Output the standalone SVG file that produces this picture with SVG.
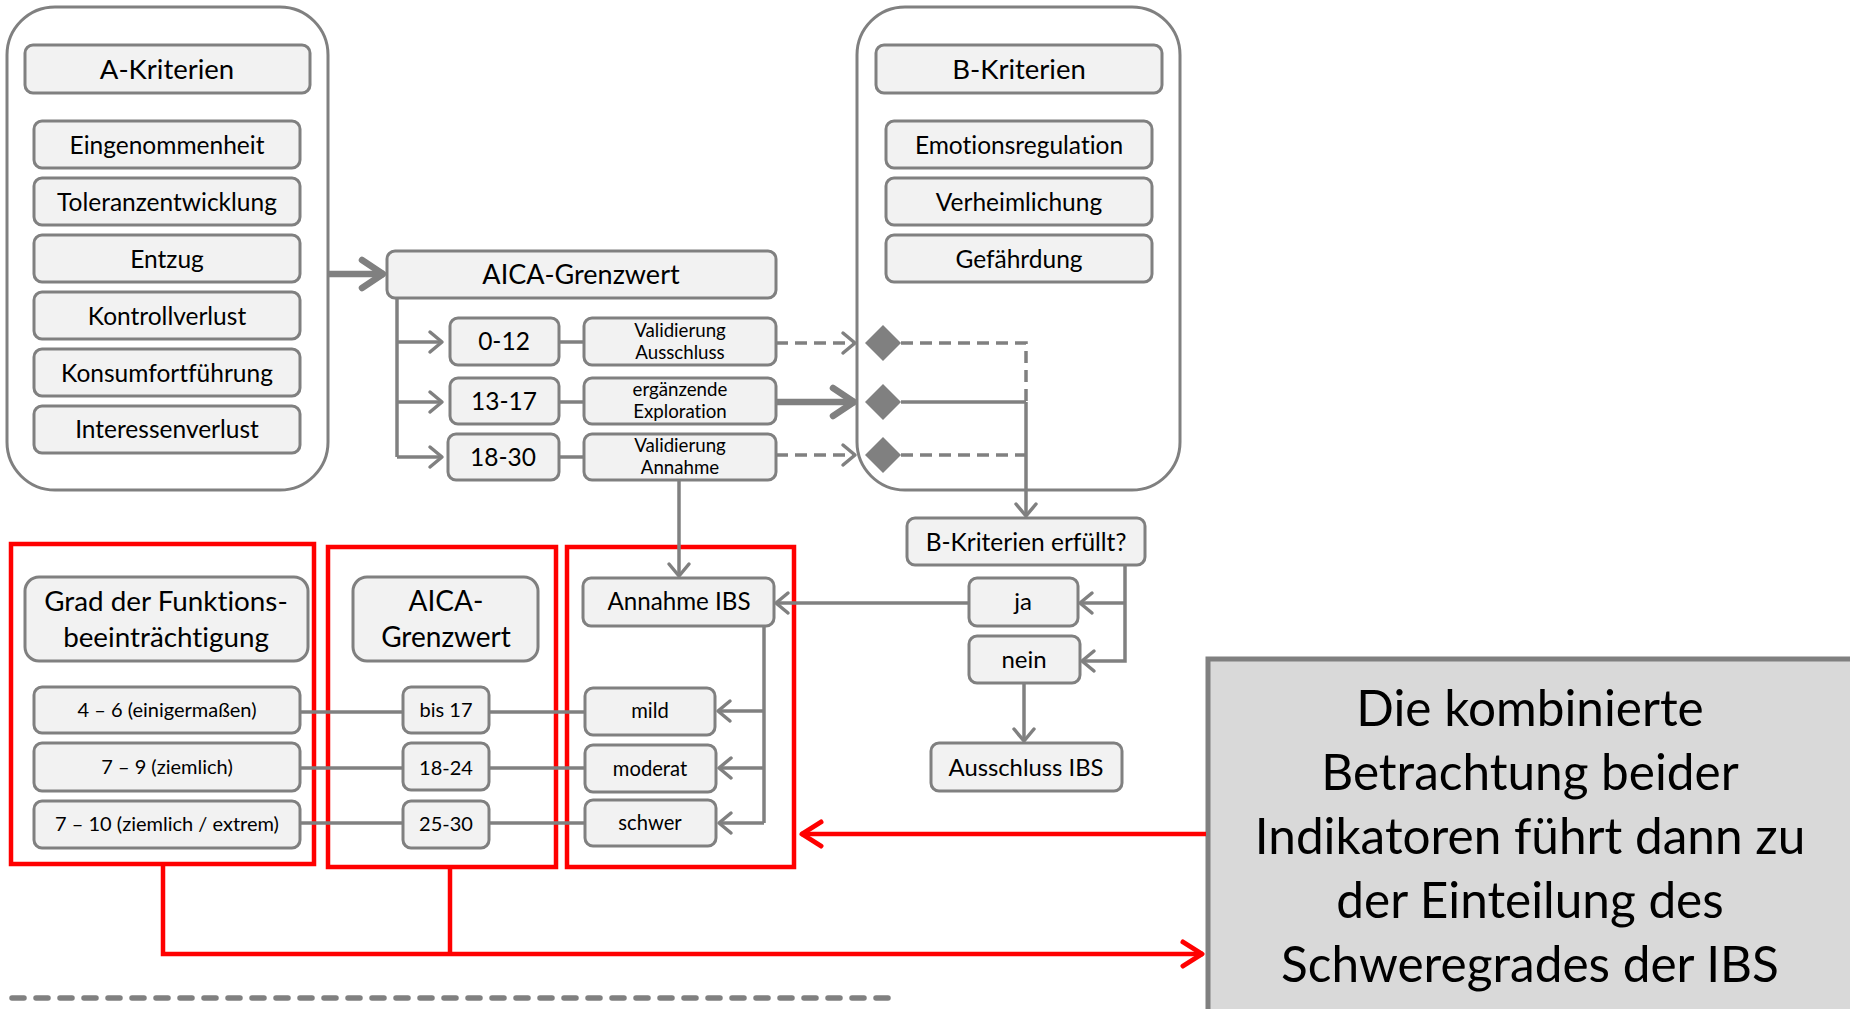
<svg xmlns="http://www.w3.org/2000/svg" width="1850" height="1009" viewBox="0 0 1850 1009">
<defs>
<style>
.box{fill:#f2f2f2;stroke:#808080;stroke-width:3}
.cont{fill:#ffffff;stroke:#808080;stroke-width:3}
.t{font-family:Lato,'Liberation Sans',sans-serif;fill:#000;text-anchor:middle;font-variant-ligatures:none;font-feature-settings:"liga" 0,"dlig" 0}
.ln{stroke:#808080;stroke-width:3.5;fill:none}
.dash{stroke-dasharray:12 7}
.red{stroke:#ff0000;stroke-width:4.5;fill:none}
.redbox{stroke:#ff0000;stroke-width:4.5;fill:none}
</style>
<marker id="ag" markerUnits="userSpaceOnUse" viewBox="-20 -15 25 30" markerWidth="25" markerHeight="30" refX="0" refY="0" orient="auto">
<path d="M-12,-10 L0,0 L-12,10" fill="none" stroke="#808080" stroke-width="3.5" stroke-linecap="round" stroke-linejoin="round"/>
</marker>
<marker id="agt" markerUnits="userSpaceOnUse" viewBox="-30 -20 35 40" markerWidth="35" markerHeight="40" refX="0" refY="0" orient="auto">
<path d="M-22,-14 L-1,0 L-22,14" fill="none" stroke="#808080" stroke-width="6.5" stroke-linecap="round" stroke-linejoin="round"/>
</marker>
<marker id="ar" markerUnits="userSpaceOnUse" viewBox="-30 -20 35 40" markerWidth="35" markerHeight="40" refX="0" refY="0" orient="auto">
<path d="M-20,-12 L-1,0 L-20,12" fill="none" stroke="#ff0000" stroke-width="5" stroke-linecap="round" stroke-linejoin="round"/>
</marker>
</defs>
<rect x="0" y="0" width="1850" height="1009" fill="#ffffff"/>

<g id="A-container">
<rect class="cont" x="7" y="7" width="321" height="483" rx="48"/>
<rect class="box" x="25" y="45" width="285" height="48" rx="8"/>
<text class="t" x="167" y="79" font-size="27.5">A-Kriterien</text>
</g>
<g id="A-Eingenommenheit"><rect class="box" x="34" y="121" width="266" height="47" rx="8"/><text class="t" x="167" y="154" font-size="24.5">Eingenommenheit</text></g>
<g id="A-Toleranzentwicklung"><rect class="box" x="34" y="178" width="266" height="47" rx="8"/><text class="t" x="167" y="211" font-size="24.5">Toleranzentwicklung</text></g>
<g id="A-Entzug"><rect class="box" x="34" y="235" width="266" height="47" rx="8"/><text class="t" x="167" y="268" font-size="24.5">Entzug</text></g>
<g id="A-Kontrollverlust"><rect class="box" x="34" y="292" width="266" height="47" rx="8"/><text class="t" x="167" y="325" font-size="24.5">Kontrollverlust</text></g>
<g id="A-Konsumfortfuehrung"><rect class="box" x="34" y="349" width="266" height="47" rx="8"/><text class="t" x="167" y="382" font-size="24.5">Konsumfortführung</text></g>
<g id="A-Interessenverlust"><rect class="box" x="34" y="406" width="266" height="47" rx="8"/><text class="t" x="167" y="438" font-size="24.5">Interessenverlust</text></g>

<g id="B-container">
<rect class="cont" x="857" y="7" width="323" height="483" rx="48"/>
<rect class="box" x="876" y="45" width="286" height="48" rx="8"/>
<text class="t" x="1019" y="79" font-size="27.5">B-Kriterien</text>
</g>
<g id="B-Emotionsregulation"><rect class="box" x="886" y="121" width="266" height="47" rx="8"/><text class="t" x="1019" y="154" font-size="24.5">Emotionsregulation</text></g>
<g id="B-Verheimlichung"><rect class="box" x="886" y="178" width="266" height="47" rx="8"/><text class="t" x="1019" y="211" font-size="24.5">Verheimlichung</text></g>
<g id="B-Gefaehrdung"><rect class="box" x="886" y="235" width="266" height="47" rx="8"/><text class="t" x="1019" y="268" font-size="24.5">Gefährdung</text></g>

<g id="AICA-Grenzwert"><rect class="box" x="387" y="251" width="389" height="47" rx="8"/><text class="t" x="581" y="284" font-size="27">AICA-Grenzwert</text></g>
<g id="r0-12"><rect class="box" x="450" y="318" width="109" height="47" rx="8"/><text class="t" x="504" y="350" font-size="24.5">0-12</text></g>
<g id="r13-17"><rect class="box" x="450" y="378" width="109" height="46" rx="8"/><text class="t" x="504" y="410" font-size="24.5">13-17</text></g>
<g id="r18-30"><rect class="box" x="448" y="434" width="111" height="46" rx="8"/><text class="t" x="503" y="466" font-size="24.5">18-30</text></g>
<g id="ValAusschluss"><rect class="box" x="584" y="318" width="192" height="47" rx="8"/><text class="t" x="680" y="337" font-size="18.7">Validierung</text><text class="t" x="680" y="359" font-size="18.7">Ausschluss</text></g>
<g id="ErgExploration"><rect class="box" x="584" y="378" width="192" height="46" rx="8"/><text class="t" x="680" y="396" font-size="18.7">ergänzende</text><text class="t" x="680" y="418" font-size="18.7">Exploration</text></g>
<g id="ValAnnahme"><rect class="box" x="584" y="434" width="192" height="46" rx="8"/><text class="t" x="680" y="452" font-size="18.7">Validierung</text><text class="t" x="680" y="474" font-size="18.7">Annahme</text></g>

<g id="diamonds" fill="#808080">
<polygon points="883,325 901,343 883,361 865,343"/>
<polygon points="883,384 901,402 883,420 865,402"/>
<polygon points="883,437 901,455 883,473 865,455"/>
</g>

<g id="BErfuellt"><rect class="box" x="907" y="518" width="238" height="47" rx="8"/><text class="t" x="1026" y="551" font-size="24.5">B-Kriterien erfüllt?</text></g>
<g id="ja"><rect class="box" x="969" y="578" width="109" height="48" rx="8"/><text class="t" x="1023" y="610" font-size="24">ja</text></g>
<g id="nein"><rect class="box" x="969" y="636" width="111" height="47" rx="8"/><text class="t" x="1024" y="668" font-size="24">nein</text></g>
<g id="AusschlussIBS"><rect class="box" x="931" y="743" width="191" height="48" rx="8"/><text class="t" x="1026" y="776" font-size="23.8">Ausschluss IBS</text></g>

<g id="GradHeader"><rect class="box" x="25" y="577" width="283" height="84" rx="14"/><text class="t" x="166" y="611" font-size="27.8">Grad der Funktions-</text><text class="t" x="166" y="647" font-size="27.8">beeinträchtigung</text></g>
<g id="G4-6"><rect class="box" x="34" y="687" width="266" height="46" rx="8"/><text class="t" x="167" y="717" font-size="20">4 – 6 (einigermaßen)</text></g>
<g id="G7-9"><rect class="box" x="34" y="743" width="266" height="48" rx="8"/><text class="t" x="167" y="774" font-size="20">7 – 9 (ziemlich)</text></g>
<g id="G7-10"><rect class="box" x="34" y="801" width="266" height="47" rx="8"/><text class="t" x="167" y="831" font-size="20">7 – 10 (ziemlich / extrem)</text></g>

<g id="AICAHeader"><rect class="box" x="353" y="577" width="185" height="84" rx="14"/><text class="t" x="446" y="611" font-size="28">AICA-</text><text class="t" x="446" y="647" font-size="28">Grenzwert</text></g>
<g id="bis17"><rect class="box" x="403" y="687" width="86" height="46" rx="8"/><text class="t" x="446" y="717" font-size="20">bis 17</text></g>
<g id="r18-24"><rect class="box" x="403" y="743" width="86" height="47" rx="8"/><text class="t" x="446" y="775" font-size="20">18-24</text></g>
<g id="r25-30"><rect class="box" x="403" y="801" width="86" height="47" rx="8"/><text class="t" x="446" y="831" font-size="20">25-30</text></g>

<g id="AnnahmeIBS"><rect class="box" x="583" y="578" width="191" height="48" rx="8"/><text class="t" x="679" y="610" font-size="24.2">Annahme IBS</text></g>
<g id="mild"><rect class="box" x="585" y="688" width="130" height="47" rx="8"/><text class="t" x="650" y="718" font-size="20.2">mild</text></g>
<g id="moderat"><rect class="box" x="585" y="745" width="131" height="47" rx="8"/><text class="t" x="650" y="776" font-size="20.2">moderat</text></g>
<g id="schwer"><rect class="box" x="585" y="800" width="131" height="46" rx="8"/><text class="t" x="650" y="830" font-size="20.2">schwer</text></g>

<g id="red-frames">
<rect class="redbox" x="11" y="544" width="303" height="320"/>
<rect class="redbox" x="328" y="547" width="228" height="320"/>
<rect class="redbox" x="567" y="547" width="227" height="320"/>
</g>

<g id="Summary">
<rect x="1208" y="659" width="650" height="360" fill="#d9d9d9" stroke="#808080" stroke-width="5"/>
<text class="t" x="1530" y="726" font-size="49.5">Die kombinierte</text>
<text class="t" x="1530" y="790" font-size="49.5">Betrachtung beider</text>
<text class="t" x="1530" y="854" font-size="49.5">Indikatoren führt dann zu</text>
<text class="t" x="1530" y="918" font-size="49.5">der Einteilung des</text>
<text class="t" x="1530" y="982" font-size="49.5">Schweregrades der IBS</text>
</g>

<g id="connectors">
<line x1="328" y1="274" x2="384" y2="274" stroke="#808080" stroke-width="6.5" marker-end="url(#agt)"/>
<polyline class="ln" points="397,298 397,457"/>
<line class="ln" x1="397" y1="342" x2="442" y2="342" marker-end="url(#ag)"/>
<line class="ln" x1="397" y1="402" x2="442" y2="402" marker-end="url(#ag)"/>
<line class="ln" x1="397" y1="457" x2="442" y2="457" marker-end="url(#ag)"/>
<line class="ln" x1="559" y1="342" x2="584" y2="342"/>
<line class="ln" x1="559" y1="402" x2="584" y2="402"/>
<line class="ln" x1="559" y1="457" x2="584" y2="457"/>
<line class="ln dash" x1="776" y1="343" x2="855" y2="343" marker-end="url(#ag)"/>
<line x1="776" y1="402" x2="855" y2="402" stroke="#808080" stroke-width="6.5" marker-end="url(#agt)"/>
<line class="ln dash" x1="776" y1="455" x2="855" y2="455" marker-end="url(#ag)"/>
<polyline class="ln dash" points="901,343 1026,343 1026,402"/>
<line class="ln" x1="901" y1="402" x2="1026" y2="402"/>
<line class="ln dash" x1="901" y1="455" x2="1026" y2="455"/>
<line class="ln" x1="1026" y1="402" x2="1026" y2="516" marker-end="url(#ag)"/>
<polyline class="ln" points="1125,565 1125,661 1082,661" marker-end="url(#ag)"/>
<line class="ln" x1="1125" y1="603" x2="1080" y2="603" marker-end="url(#ag)"/>
<line class="ln" x1="1024" y1="683" x2="1024" y2="741" marker-end="url(#ag)"/>
<line class="ln" x1="969" y1="603" x2="776" y2="603" marker-end="url(#ag)"/>
<line class="ln" x1="679" y1="480" x2="679" y2="576" marker-end="url(#ag)"/>
<polyline class="ln" points="764,626 764,823"/>
<line class="ln" x1="764" y1="711" x2="718" y2="711" marker-end="url(#ag)"/>
<line class="ln" x1="764" y1="768" x2="719" y2="768" marker-end="url(#ag)"/>
<line class="ln" x1="764" y1="823" x2="719" y2="823" marker-end="url(#ag)"/>
<line class="ln" x1="300" y1="712" x2="403" y2="712"/>
<line class="ln" x1="489" y1="712" x2="585" y2="712"/>
<line class="ln" x1="300" y1="768" x2="403" y2="768"/>
<line class="ln" x1="489" y1="768" x2="585" y2="768"/>
<line class="ln" x1="300" y1="823" x2="403" y2="823"/>
<line class="ln" x1="489" y1="823" x2="585" y2="823"/>
<line class="red" x1="1206" y1="834" x2="801" y2="834" marker-end="url(#ar)"/>
<polyline class="red" points="163,864 163,954 1203,954" marker-end="url(#ar)"/>
<line class="red" x1="450" y1="867" x2="450" y2="954"/>
<line x1="12" y1="998" x2="890" y2="998" stroke="#808080" stroke-width="5.5" stroke-linecap="round" stroke-dasharray="12 12"/>
</g>
</svg>
